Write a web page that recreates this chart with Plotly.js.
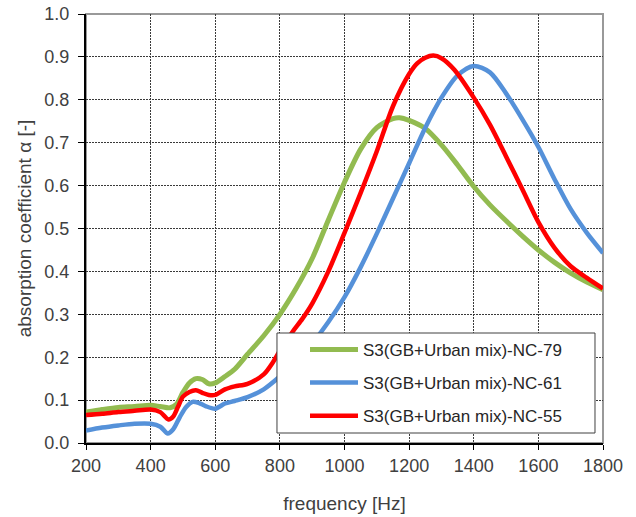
<!DOCTYPE html>
<html>
<head>
<meta charset="utf-8">
<script src="https://cdn.plot.ly/plotly-3.0.1.min.js"></script>
<style>html,body{margin:0;padding:0;background:#fff;}#chart{width:636px;height:517px;}</style>
</head>
<body>
<div id="chart"></div>
<script>
// Series names
var names = ["S3(GB+Urban mix)-NC-79", "S3(GB+Urban mix)-NC-61", "S3(GB+Urban mix)-NC-55"];

// NC-79 (green)
var freq79 = [200, 250, 300, 350, 400, 430, 460, 480, 500, 520, 540, 560, 580, 600, 630, 660, 700, 750, 800, 850, 900, 950, 1000, 1050, 1100, 1150, 1170, 1200, 1250, 1300, 1350, 1400, 1450, 1500, 1550, 1600, 1650, 1700, 1750, 1800];
var alpha79 = [0.072, 0.078, 0.083, 0.085, 0.088, 0.085, 0.082, 0.090, 0.118, 0.140, 0.150, 0.148, 0.138, 0.140, 0.155, 0.172, 0.207, 0.250, 0.300, 0.360, 0.430, 0.520, 0.608, 0.685, 0.735, 0.756, 0.758, 0.752, 0.733, 0.695, 0.648, 0.598, 0.555, 0.518, 0.483, 0.450, 0.421, 0.396, 0.375, 0.357];

// NC-61 (blue)
var freq61 = [200, 250, 300, 350, 400, 430, 453, 470, 490, 510, 530, 550, 570, 600, 630, 660, 700, 750, 800, 850, 900, 950, 1000, 1050, 1100, 1150, 1200, 1250, 1300, 1350, 1400, 1450, 1500, 1550, 1600, 1650, 1700, 1750, 1800];
var alpha61 = [0.029, 0.036, 0.041, 0.045, 0.045, 0.038, 0.022, 0.032, 0.060, 0.084, 0.096, 0.093, 0.086, 0.080, 0.092, 0.098, 0.107, 0.125, 0.155, 0.190, 0.232, 0.282, 0.340, 0.410, 0.488, 0.570, 0.652, 0.735, 0.805, 0.857, 0.879, 0.864, 0.815, 0.755, 0.690, 0.615, 0.545, 0.490, 0.443];

// NC-55 (red)
var freq55 = [200, 250, 300, 350, 400, 430, 455, 470, 485, 500, 520, 540, 560, 580, 600, 630, 660, 700, 750, 780, 800, 840, 870, 900, 950, 1000, 1050, 1100, 1150, 1200, 1225, 1250, 1275, 1300, 1340, 1400, 1450, 1500, 1550, 1600, 1650, 1700, 1750, 1800];
var alpha55 = [0.065, 0.068, 0.072, 0.075, 0.078, 0.072, 0.055, 0.062, 0.085, 0.108, 0.119, 0.123, 0.117, 0.112, 0.112, 0.125, 0.132, 0.138, 0.160, 0.190, 0.215, 0.260, 0.290, 0.325, 0.400, 0.490, 0.583, 0.680, 0.785, 0.860, 0.885, 0.898, 0.903, 0.897, 0.870, 0.805, 0.742, 0.668, 0.592, 0.515, 0.455, 0.412, 0.385, 0.360];

var colors = ["#92BB50", "#5591D9", "#FF0000"];

var traces = [
  {x: freq79, y: alpha79, name: names[0], legendgroup: "a", mode: "lines", line: {color: colors[0], width: 5, shape: "spline", smoothing: 0.8}},
  {x: freq61, y: alpha61, name: names[1], legendgroup: "b", mode: "lines", line: {color: colors[1], width: 4.5, shape: "spline", smoothing: 0.8}},
  {x: freq55, y: alpha55, name: names[2], legendgroup: "c", mode: "lines", line: {color: colors[2], width: 4.5, shape: "spline", smoothing: 0.8}}
];

var font = "Liberation Sans, Arial, sans-serif";

var layout = {
  width: 636, height: 517,
  margin: {l: 86, r: 33, t: 14, b: 74, pad: 0},
  paper_bgcolor: "#fff", plot_bgcolor: "#fff",
  font: {family: font, color: "#404040"},
  showlegend: true,
  legend: {
    x: 0.4236, y: 0.259, xanchor: "left", yanchor: "top",
    bgcolor: "rgba(0,0,0,0)", borderwidth: 0,
    font: {family: font, size: 17, color: "#262626"},
    traceorder: "grouped", tracegroupgap: 8, itemwidth: 48
  },
  xaxis: {
    range: [200, 1800], dtick: 200, tick0: 200,
    showline: true, linecolor: "#000", linewidth: 2,
    ticks: "outside", ticklen: 5, tickcolor: "#000", tickwidth: 1,
    showgrid: true, gridcolor: "#3a3a3a", gridwidth: 1, griddash: "2px,1px",
    zeroline: false,
    tickfont: {family: font, size: 18, color: "#404040"},
    title: {text: "frequency [Hz]", font: {family: font, size: 19, color: "#404040"}, standoff: 22},
    automargin: false
  },
  yaxis: {
    range: [0, 1], dtick: 0.1, tick0: 0, tickformat: ".1f",
    showline: true, linecolor: "#000", linewidth: 2,
    ticks: "outside", ticklen: 6, tickcolor: "#000", tickwidth: 1,
    ticklabelstandoff: 5,
    showgrid: true, gridcolor: "#3a3a3a", gridwidth: 1, griddash: "2px,1px",
    zeroline: false,
    tickfont: {family: font, size: 18, color: "#404040"},
    title: {text: "absorption coefficient α [-]", font: {family: font, size: 19, color: "#404040"}, standoff: 8},
    automargin: false
  },
  shapes: [
    {type: "rect", xref: "paper", yref: "paper", x0: 0, x1: 1, y0: 0, y1: 1, line: {color: "#999999", width: 2}, layer: "below"},
    {type: "rect", xref: "paper", yref: "paper", x0: 0.3694, x1: 0.9845, y0: 0.0233, y1: 0.2564, fillcolor: "#fff", line: {color: "#404040", width: 1}, layer: "above"}
  ]
};

Plotly.newPlot("chart", traces, layout, {displayModeBar: false, staticPlot: true});
</script>
</body>
</html>
